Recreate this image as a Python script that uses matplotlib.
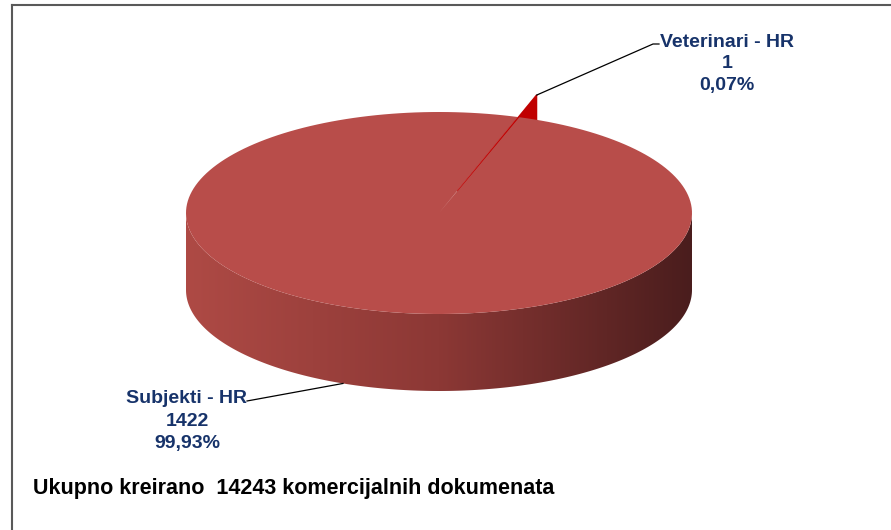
import numpy as np
import matplotlib
matplotlib.use('Agg')
import matplotlib.pyplot as plt
from matplotlib import font_manager
from matplotlib.patches import Polygon
from matplotlib.colors import LinearSegmentedColormap

labels = ['Subjekti - HR', 'Veterinari - HR']
counts = [1422, 1]
explode = [0.0, 0.23]
top_colors = ['#B84D4A', '#C00000']
side_colors = ['#AE4A45', '#8C3835', '#4A1D1D']
title = 'Ukupno kreirano  14243 komercijalnih dokumenata'

# pie geometry in pixels (y grows downwards)
cx, cy, a, b, depth = 439, 213, 253, 101, 77
start = 18.43  # degrees clockwise from 12 o'clock

text_col = '#17336A'
plt.rcParams['font.family'] = ['Liberation Sans', 'DejaVu Sans']

# condensed face for the data labels if it is there
try:
    font_manager.findfont('Liberation Sans Narrow', fallback_to_default=False)
    label_font, label_size = ['Liberation Sans Narrow', 'Liberation Sans'], 16
except ValueError:
    label_font, label_size = ['Liberation Sans', 'DejaVu Sans'], 14


def pt(theta, r=1.0, off=(0.0, 0.0), dz=0.0):
    t = np.radians(theta)
    return (cx + a * (r * np.sin(t) + off[0]),
            cy - b * (r * np.cos(t) + off[1]) + dz)


def arc(t0, t1, off=(0.0, 0.0), dz=0.0, n=200):
    return [pt(t, 1.0, off, dz) for t in np.linspace(t0, t1, n)]


def main():
    fig = plt.figure(figsize=(8.91, 5.30), dpi=100)
    ax = fig.add_axes([0, 0, 1, 1])
    ax.set_xlim(0, 891)
    ax.set_ylim(530, 0)
    ax.axis('off')

    total = sum(counts)
    spans = [360.0 * c / total for c in counts]
    starts = np.concatenate([[start], start + np.cumsum(spans)[:-1]])

    # main slice: side wall with gradient, then top face
    s0, sp = starts[0], spans[0]
    side = arc(90, 270) + arc(270, 90, dz=depth)
    side_patch = Polygon(side, closed=True, facecolor='none', edgecolor='none')
    ax.add_patch(side_patch)
    cmap = LinearSegmentedColormap.from_list('side', side_colors)
    grad = ax.imshow(np.linspace(0, 1, 256)[None, :], cmap=cmap, aspect='auto',
                     extent=[cx - a, cx + a, cy + b + depth, cy], zorder=1)
    grad.set_clip_path(side_patch)

    top = [pt(0, 0.0)] + arc(s0, s0 + sp)
    ax.add_patch(Polygon(top, closed=True, facecolor=top_colors[0],
                         edgecolor='none', zorder=2))

    # small exploded slice
    s1, sp1 = starts[1], spans[1]
    mid = s1 + sp1 / 2
    off = (explode[1] * np.sin(np.radians(mid)), explode[1] * np.cos(np.radians(mid)))
    body = [pt(mid, 0.0, off), pt(s1, 1.0, off), pt(s1 + sp1, 1.0, off),
            pt(s1 + sp1, 1.0, off, depth), pt(mid, 0.0, off, depth)]
    ax.add_patch(Polygon(body, closed=True, facecolor=top_colors[1],
                         edgecolor='none', zorder=1.5))
    wedge = [pt(mid, 0.0, off)] + arc(s1, s1 + sp1, off, n=5)
    ax.add_patch(Polygon(wedge, closed=True, facecolor=top_colors[1],
                         edgecolor=top_colors[1], linewidth=0.6, alpha=0.7, zorder=3))

    # labels
    pct = [100.0 * c / total for c in counts]
    texts = [f'{l}\n{c}\n{p:.2f}%'.replace('.', ',') for l, c, p in zip(labels, counts, pct)]

    tip = pt(mid, 1.0, off)
    ax.plot([tip[0], 653, 659], [tip[1], 44, 44], color='black', lw=0.9, zorder=4)
    ax.text(727, 64, texts[1], ha='center', va='center', color=text_col,
            family=label_font, fontsize=label_size, fontweight='bold', linespacing=1.32)

    anchor = pt(202.3, 1.0, dz=depth)
    ax.plot([anchor[0], 247], [anchor[1], 401], color='black', lw=0.9, zorder=4)
    ax.text(187, 421, texts[0], ha='center', va='center', color=text_col,
            family=label_font, fontsize=label_size, fontweight='bold', linespacing=1.45)

    ax.text(33, 494, title, ha='left', va='baseline', color='black',
            fontsize=15.5, fontweight='bold')

    # chart frame
    ax.plot([11.5, 891], [4.5, 4.5], color='#595959', lw=1.5, clip_on=False)
    ax.plot([11.5, 11.5], [4.5, 530], color='#595959', lw=1.5, clip_on=False)

    fig.savefig('out.png', dpi=100)


if __name__ == '__main__':
    main()
